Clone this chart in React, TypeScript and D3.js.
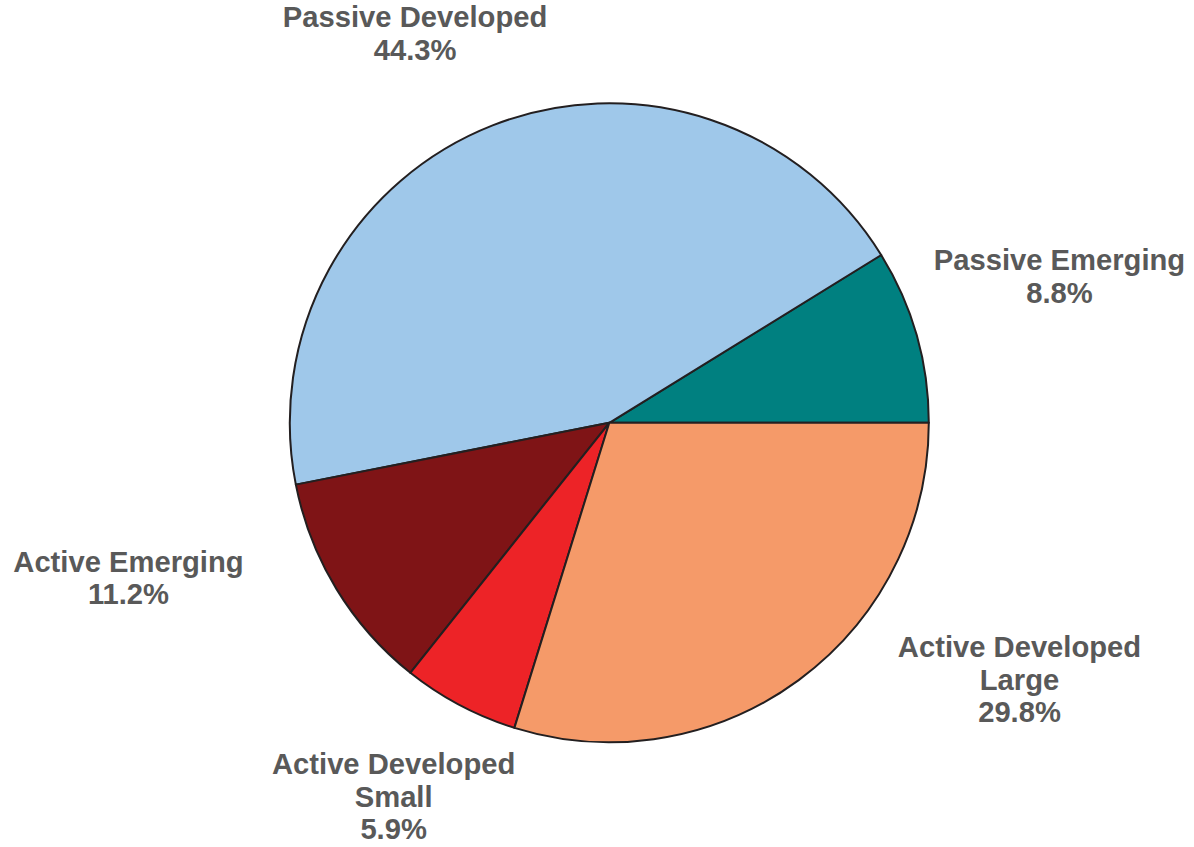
import React from "react";
import * as d3 from "d3";

const categories = [
  "Passive Emerging",
  "Passive Developed",
  "Active Emerging",
  "Active Developed Small",
  "Active Developed Large",
];
const values = [8.8, 44.3, 11.2, 5.9, 29.8];
const labelLines = [
  ["Passive Emerging"],
  ["Passive Developed"],
  ["Active Emerging"],
  ["Active Developed", "Small"],
  ["Active Developed", "Large"],
];
const colors = ["#008080", "#9FC8EA", "#7F1416", "#ED2327", "#F59A69"];

// label anchor offsets, in units of the pie radius, relative to pie centre
const labelOffsets: [number, number][] = [
  [1.409, -0.478],
  [-0.608, -1.238],
  [-1.505, 0.466],
  [-0.675, 1.1],
  [1.284, 0.734],
];

const W = 1194;
const H = 847;
const CX = 609.3;
const CY = 422.8;
const R = 319.5;
const FONT = 29.2;
const LINE = 32.5;

export default function App() {
  const pie = d3
    .pie<number>()
    .sort(null)
    .startAngle(Math.PI / 2)
    .endAngle(Math.PI / 2 - 2 * Math.PI);
  const arcs = pie(values);
  const arc = d3.arc<d3.PieArcDatum<number>>().innerRadius(0).outerRadius(R);
  const fmt = d3.format(".1f");

  return (
    <svg
      width={W}
      height={H}
      style={{ position: "absolute", left: 0, top: 0, background: "#fff" }}
    >
      <g transform={`translate(${CX},${CY})`}>
        {arcs.map((a, i) => (
          <path
            key={categories[i]}
            d={arc(a) || ""}
            fill={colors[i]}
            stroke="#231F20"
            strokeWidth={2}
            strokeLinejoin="round"
          />
        ))}
        {arcs.map((a, i) => {
          const [ox, oy] = labelOffsets[i];
          const lines = [...labelLines[i], `${fmt(values[i])}%`];
          return (
            <text
              key={"l" + i}
              x={ox * R}
              y={oy * R}
              textAnchor="middle"
              fontFamily="'Liberation Sans', Arial, sans-serif"
              fontWeight="bold"
              fontSize={FONT}
              fill="#595959"
            >
              {lines.map((t, j) => (
                <tspan key={j} x={ox * R} dy={j === 0 ? 0 : LINE}>
                  {t}
                </tspan>
              ))}
            </text>
          );
        })}
      </g>
    </svg>
  );
}
